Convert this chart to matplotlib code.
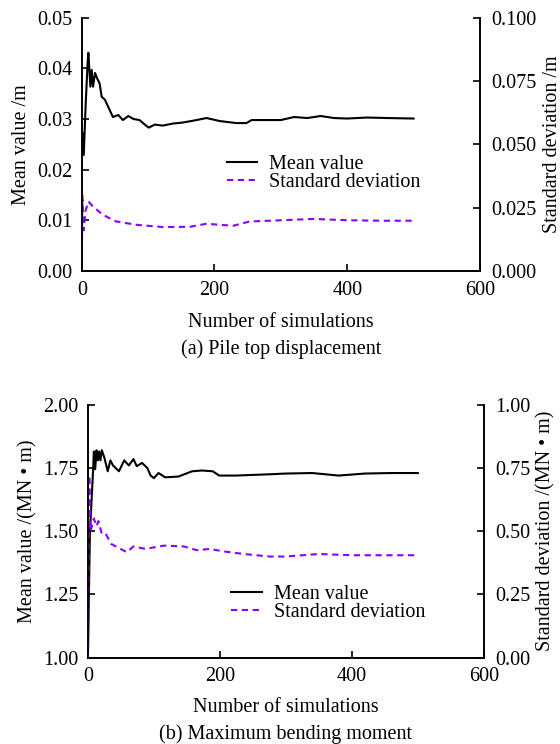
import matplotlib
matplotlib.use("Agg")
import matplotlib.pyplot as plt
from matplotlib.ticker import FormatStrFormatter

plt.rcParams["font.family"] = ["Liberation Serif", "DejaVu Serif"]
plt.rcParams["font.size"] = 14.5

# (a) Pile top displacement
n_mean_a = [1, 3, 6, 9, 10, 13, 15, 17, 20, 23, 27, 30, 35, 42, 47, 55, 62, 70, 78,
            87, 95, 101, 110, 122, 137, 152, 173, 188, 208, 233, 248, 256, 283,
            300, 320, 340, 360, 380, 400, 430, 460, 500]
mean_a = [0.0273, 0.0229, 0.0332, 0.0415, 0.0431, 0.0364, 0.0397, 0.0364, 0.0391,
          0.0381, 0.0370, 0.0344, 0.0338, 0.0318, 0.0304, 0.0308, 0.0298, 0.0306,
          0.0300, 0.0298, 0.0289, 0.0283, 0.0289, 0.0287, 0.0291, 0.0293, 0.0298,
          0.0302, 0.0296, 0.0292, 0.0292, 0.0298, 0.0298, 0.0298, 0.0304, 0.0302,
          0.0306, 0.0302, 0.0301, 0.0303, 0.0302, 0.0301]
n_std_a = [0, 1, 3, 6, 10, 17, 32, 52, 82, 122, 163, 188, 228, 253, 283, 320, 350,
           400, 450, 500]
std_a = [0.0, 0.030, 0.016, 0.024, 0.0274, 0.0254, 0.0221, 0.0195, 0.0182, 0.0173,
         0.0174, 0.0186, 0.0178, 0.0195, 0.0198, 0.0202, 0.0205, 0.0200, 0.0198,
         0.0198]

# (b) Maximum bending moment
n_mean_b = [0, 3, 8, 9, 11, 13, 15, 17, 19, 21, 25, 30, 34, 38, 47, 55, 62, 69, 74,
            82, 90, 95, 100, 107, 117, 137, 158, 173, 189, 199, 224, 275, 300, 340,
            380, 420, 460, 500]
mean_b = [1.00, 1.49, 1.75, 1.815, 1.745, 1.82, 1.78, 1.815, 1.78, 1.82, 1.79, 1.737,
          1.78, 1.76, 1.737, 1.78, 1.76, 1.785, 1.757, 1.77, 1.75, 1.72, 1.71, 1.73,
          1.713, 1.716, 1.737, 1.74, 1.737, 1.72, 1.72, 1.725, 1.728, 1.73, 1.72,
          1.728, 1.73, 1.73]
n_std_b = [0, 2, 4, 6, 9, 13, 16, 21, 27, 35, 59, 69, 87, 115, 145, 165, 185, 206,
           236, 275, 300, 350, 400, 450, 500]
std_b = [0.0, 0.72, 0.50, 0.52, 0.55, 0.52, 0.54, 0.49, 0.49, 0.45, 0.417, 0.44,
         0.43, 0.443, 0.44, 0.425, 0.43, 0.42, 0.41, 0.40, 0.40, 0.41, 0.405, 0.405,
         0.405]

yticks_a_left = [0.00, 0.01, 0.02, 0.03, 0.04, 0.05]
yticks_a_right = [0.000, 0.025, 0.050, 0.075, 0.100]
yticks_b_left = [1.00, 1.25, 1.50, 1.75, 2.00]
yticks_b_right = [0.00, 0.25, 0.50, 0.75, 1.00]

purple = "#8a00ff"

fig = plt.figure(figsize=(5.6, 7.44), dpi=100)


def panel(rect, n_m, m, n_s, s, yt_l, yt_r, fmt_l, fmt_r,
          ylabel_l, ylabel_r, title, leg_anchor, xlabelpad):
    ax = fig.add_axes(rect)
    ax2 = ax.twinx()
    l1, = ax.plot(n_m, m, color="black", lw=1.5, label="Mean value")
    l2, = ax2.plot(n_s, s, color=purple, lw=1.5, ls=(0, (3, 2.2)),
                   label="Standard deviation")
    ax.set_xlim(0, 600)
    ax.set_xticks([0, 200, 400, 600])
    ax.set_ylim(yt_l[0], yt_l[-1])
    ax2.set_ylim(yt_r[0], yt_r[-1])
    ax.set_yticks(yt_l)
    ax2.set_yticks(yt_r)
    ax.yaxis.set_major_formatter(FormatStrFormatter(fmt_l))
    ax2.yaxis.set_major_formatter(FormatStrFormatter(fmt_r))
    for a in (ax, ax2):
        a.spines["top"].set_visible(False)
        a.tick_params(direction="in", length=5, width=1.2, pad=7)
        for sp in a.spines.values():
            sp.set_linewidth(1.2)
    ax2.tick_params(axis="y", pad=8.5)
    ax.set_ylabel(ylabel_l, labelpad=4)
    ax2.set_ylabel(ylabel_r, rotation=90, labelpad=4)
    ax.set_xlabel("Number of simulations" + "\n" + title, linespacing=1.5,
                  labelpad=xlabelpad)
    ax.legend(handles=[l1, l2], frameon=False, loc="upper left",
              bbox_to_anchor=leg_anchor, handlelength=1.5, borderpad=0,
              labelspacing=-0.05, handletextpad=0.6)
    return ax, ax2


panel([0.146, 0.636, 0.711, 0.340], n_mean_a, mean_a, n_std_a, std_a,
      yticks_a_left, yticks_a_right, "%.2f", "%.3f",
      "Mean value /m", "Standard deviation /m",
      "(a) Pile top displacement", (0.34, 0.497), 9.5)

panel([0.157, 0.116, 0.707, 0.340], n_mean_b, mean_b, n_std_b, std_b,
      yticks_b_left, yticks_b_right, "%.2f", "%.2f",
      "Mean value /(MN \u2022 m)", "Standard deviation /(MN \u2022 m)",
      "(b) Maximum bending moment", (0.337, 0.328), 8)

fig.savefig("out.png", dpi=100)
